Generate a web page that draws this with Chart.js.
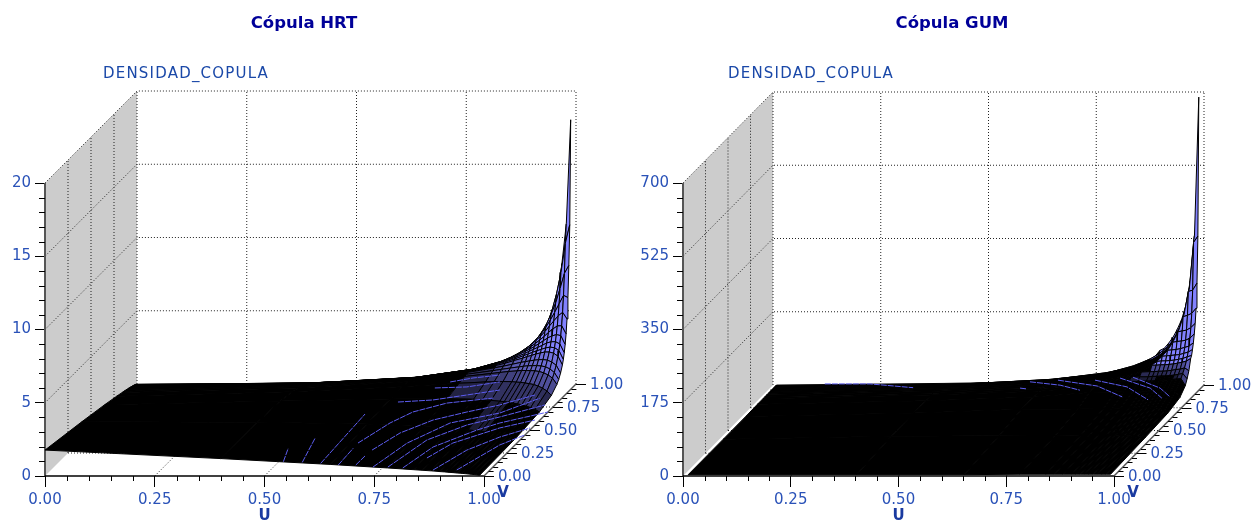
<!DOCTYPE html>
<html><head><meta charset="utf-8">
<script src="https://cdn.jsdelivr.net/npm/chart.js@4"></script>
<style>
html,body{margin:0;padding:0;background:#fff;overflow:hidden;width:1251px;height:521px}
canvas{position:absolute;top:0}
</style></head><body>
<canvas id="hrt" style="left:-18px" width="644" height="521"></canvas>
<canvas id="gum" style="left:626px" width="652" height="521"></canvas>
<script>
// Axis ticks
const uTicks = [0, 0.25, 0.5, 0.75, 1];
const vTicks = [0, 0.25, 0.5, 0.75, 1];
const zTicksHRT = [0, 5, 10, 15, 20];
const zTicksGUM = [0, 175, 350, 525, 700];
// Mesh knots (denser where the surface climbs)
const knotsHRT = [0, .4, .65, .78, .84, .86, .88, .90, .91, .92, .93, .94, .95, .96, .97, .98, .99];
const knotsGUM = [.01, .4, .65, .78, .84, .86, .88, .90, .91, .92, .93, .94, .95, .96, .97, .98, .99];
// Density, rows = v knots, columns = u knots
const densityHRT = [
[1.77,1.19,.79,.55,.43,.39,.35,.30,.28,.25,.23,.20,.18,.15,.12,.09,.05],
[1.19,1.16,1.03,.86,.74,.69,.63,.57,.54,.50,.46,.42,.37,.32,.26,.20,.12],
[.79,1.03,1.18,1.20,1.15,1.12,1.08,1.02,.99,.95,.89,.84,.77,.68,.58,.46,.29],
[.55,.86,1.20,1.43,1.52,1.54,1.55,1.54,1.51,1.49,1.45,1.40,1.34,1.24,1.09,.90,.60],
[.43,.74,1.15,1.52,1.72,1.79,1.86,1.90,1.93,1.92,1.92,1.90,1.86,1.76,1.62,1.40,.98],
[.39,.69,1.12,1.54,1.79,1.88,1.97,2.05,2.09,2.12,2.13,2.13,2.11,2.05,1.90,1.66,1.19],
[.35,.63,1.08,1.55,1.86,1.97,2.10,2.23,2.28,2.33,2.38,2.41,2.42,2.38,2.25,2.03,1.50],
[.30,.57,1.02,1.54,1.90,2.05,2.23,2.40,2.50,2.58,2.68,2.75,2.81,2.81,2.73,2.52,1.93],
[.28,.54,.99,1.51,1.93,2.09,2.28,2.50,2.61,2.73,2.83,2.93,3.03,3.08,3.04,2.84,2.23],
[.25,.50,.95,1.49,1.92,2.12,2.33,2.58,2.73,2.87,3.00,3.14,3.30,3.38,3.39,3.23,2.63],
[.23,.46,.89,1.45,1.92,2.13,2.38,2.68,2.83,3.00,3.19,3.38,3.58,3.72,3.81,3.74,3.13],
[.20,.42,.84,1.40,1.90,2.13,2.41,2.75,2.93,3.14,3.38,3.62,3.90,4.13,4.34,4.35,3.79],
[.18,.37,.77,1.34,1.86,2.11,2.42,2.81,3.03,3.30,3.58,3.90,4.27,4.62,4.97,5.20,4.75],
[.15,.32,.68,1.24,1.76,2.05,2.38,2.81,3.08,3.38,3.72,4.13,4.62,5.15,5.72,6.30,6.15],
[.12,.26,.58,1.09,1.62,1.90,2.25,2.73,3.04,3.39,3.81,4.34,4.97,5.72,6.70,7.74,8.28],
[.09,.20,.46,.90,1.40,1.66,2.03,2.52,2.84,3.23,3.74,4.35,5.20,6.30,7.74,9.74,11.0],
[.05,.12,.29,.60,.98,1.19,1.50,1.93,2.23,2.63,3.13,3.79,4.75,6.15,8.28,11.0,18.1]];
const densityGUM = [
[1,1,1,2,2,2,2,2,2,2,2,2,2,2,2,2,2],
[1,8,9,10,11,11,11,11,11,11,10,10,9,8,7,6,6],
[1,9,18,19,20,20,21,21,21,22,22,22,22,22,19,13,10],
[2,10,19,30,31,32,32,33,33,34,34,35,35,36,36,33,18],
[2,11,20,31,42,43,43,44,44,45,46,46,47,48,49,50,33],
[2,11,20,32,43,49,50,50,51,51,52,52,53,54,56,58,45],
[2,11,21,32,43,50,57,58,58,59,59,60,61,63,64,67,60],
[2,11,21,33,44,50,58,69,69,70,70,71,72,74,76,79,85],
[2,11,21,33,44,51,58,69,76,77,77,78,79,81,83,87,90],
[2,11,22,34,45,51,59,70,77,86,87,88,89,90,93,96,102],
[2,10,22,34,46,52,59,70,77,87,98,99,100,102,105,108,116],
[2,10,22,35,46,52,60,71,78,88,99,115,117,118,120,125,135],
[2,9,22,35,47,53,61,72,79,89,100,117,138,140,142,148,158],
[2,8,22,36,48,54,63,74,81,90,102,118,140,172,175,180,192],
[2,7,19,36,49,56,64,76,83,93,105,120,142,175,230,233,250],
[2,6,13,33,50,58,67,79,87,96,108,125,148,180,233,345,360],
[2,6,10,18,33,45,60,85,90,102,116,135,158,192,250,360,690]];
// Thin blue streaks in the dark part of the mesh, in plotted axis units [x, y, x, y, ...]
const streaksHRT = [
[.543,.976,.554,1.89],[.586,.93,.615,2.57],[.628,.86,.729,4.23],[.668,.75,.702,1.89],[.708,.75,.729,1.37],
[.713,2.25,.786,3.62,.838,4.37,.916,4.98,1.021,5.32],
[.745,1.77,.809,2.94,.884,3.82,.961,4.37,1.036,4.85,1.116,5.53],
[.747,.61,.825,2.25,.923,3.62,1.036,4.30,1.128,5.32],
[.781,.61,.870,2.46,.961,3.48,1.036,4.03,1.139,4.85],
[.815,.55,.884,1.98,.984,3.14,1.036,3.62,1.146,4.37],
[.870,1.23,.929,2.25,1.036,3.28,1.116,3.82],
[.884,.41,.961,1.77,1.036,2.66,1.105,3.28],
[.938,.41,1.036,2.12,1.093,2.80],
[.804,5.05,.884,5.19,.961,5.53,1.036,5.87],
[.888,6.01,.961,6.08,1.036,6.42],
[.923,6.42,.975,6.69,1.036,6.89]];
const streaksGUM = [
[.329,220,.434,220,.534,211],[.782,210,.798,208],
[.805,225,.875,217,.921,205],[.870,229,.961,215,1.019,189],
[.956,229,1.030,213,1.079,182],[1.014,234,1.084,210,1.111,186],
[1.044,236,1.107,210,1.130,189]];

const BLUE = [130,130,255];
const F = '"DejaVu Sans"';

function build(id, cfg){
  const vx = cfg.vPx[0]/cfg.uPx, vy = cfg.vPx[1]/cfg.zPx;
  const P = (u,v,z)=>({x:u+v*vx, y:z+v*vy});
  const zTop = cfg.zTicks[cfg.zTicks.length-1];
  const sets = [];
  const poly = (pts,o)=>sets.push(Object.assign({data:pts,showLine:true,pointRadius:0,borderWidth:0,fill:false,clip:false},o));
  const dots = pts=>poly(pts,{borderColor:'#222',borderWidth:1,borderDash:[1,2]});
  // walls
  poly([P(0,0,0),P(0,1,0),P(0,1,zTop),P(0,0,zTop),P(0,0,0)],{fill:'shape',backgroundColor:'#cccccc'});
  cfg.zTicks.slice(1).forEach(z=>{dots([P(0,0,z),P(0,1,z),P(1,1,z)]);});
  vTicks.slice(1).forEach(v=>dots([P(0,v,0),P(0,v,zTop)]));
  uTicks.slice(1).forEach(u=>dots([P(u,1,0),P(u,1,zTop)]));
  uTicks.slice(1,4).forEach(u=>dots([P(u,0,0),P(u,1,0)]));
  vTicks.slice(1,4).forEach(v=>dots([P(0,v,0),P(1,v,0)]));
  // axes
  poly([P(0,0,0),P(0,0,zTop)],{borderColor:'#555',borderWidth:2});
  poly([P(0,0,0),P(1,0,0)],{borderColor:'#000',borderWidth:1.5});
  poly([P(1,0,0),P(1,1,0)],{borderColor:'#555',borderWidth:1.5});
  // surface, far cells first
  const K = cfg.knots, Z = cfg.density;
  for(let i=K.length-2;i>=0;i--){
    for(let j=0;j<K.length-1;j++){
      const dv=K[i+1]-K[i];
      const dz=(Z[i+1][j]+Z[i+1][j+1]-Z[i][j]-Z[i][j+1])/2/dv;
      const sy=Math.abs(cfg.vPx[1]*0.01+cfg.zPx*0.01*dz)/cfg.dark;
      const n=Math.max(1,dv*100);
      const black=sy<=1?1:(1/sy)*(1-1/n)/(1-1/(sy*n));
      let f=Math.max(0,Math.min(1,1-black));
      if(f<0.2)f=0;
      const col='rgb('+BLUE.map(c=>Math.round(c*f)).join(',')+')';
      poly([P(K[j],K[i],Z[i][j]),P(K[j+1],K[i],Z[i][j+1]),P(K[j+1],K[i+1],Z[i+1][j+1]),P(K[j],K[i+1],Z[i+1][j]),P(K[j],K[i],Z[i][j])],
        {fill:'shape',backgroundColor:col,borderColor:'#000',borderWidth:1});
    }
  }
  // streaks
  cfg.streaks.forEach(s=>{
    const pts=[];for(let k=0;k<s.length;k+=2)pts.push({x:s[k],y:s[k+1]});
    poly(pts,{borderColor:'#5c5cf0',borderWidth:1,borderDash:[6,1]});
  });
  sets.reverse();

  const axisPlugin={id:'obliqueAxis',afterDraw(ch){
    const c=ch.ctx,X=ch.scales.x,Y=ch.scales.y;
    const px=(u,v,z)=>{const p=P(u,v,z);return [X.getPixelForValue(p.x),Y.getPixelForValue(p.y)];};
    c.save();
    c.strokeStyle='#000';c.lineWidth=1;c.beginPath();
    for(let t=1;t<20;t++){
      if(t%5===0)continue;
      let a=px(t/20,0,0);c.moveTo(Math.round(a[0])+.5,a[1]);c.lineTo(Math.round(a[0])+.5,a[1]+5);
      a=px(0,0,zTop*t/20);c.moveTo(a[0],Math.round(a[1])+.5);c.lineTo(a[0]-6,Math.round(a[1])+.5);
    }
    for(let t=0;t<=20;t++){
      const a=px(1,t/20,0),l=t%5===0?10:5;
      c.moveTo(a[0],Math.round(a[1])+.5);c.lineTo(a[0]+l,Math.round(a[1])+.5);
    }
    c.stroke();
    c.textBaseline='middle';c.textAlign='left';
    c.font='15px '+F;c.fillStyle='#2a52b8';
    vTicks.forEach(v=>{const a=px(1,v,0);c.fillText(v.toFixed(2),a[0]+14,a[1]+1);});
    c.font='15px '+F;c.fillStyle='#1a48a8';
    if('letterSpacing' in c)c.letterSpacing='1.2px';
    c.fillText('DENSIDAD_COPULA',cfg.zLabel[0],cfg.zLabel[1]);
    if('letterSpacing' in c)c.letterSpacing='0px';
    c.font='bold 15px '+F;c.fillStyle='#1a3aa0';c.textAlign='center';
    const b=px(1,0,0);
    c.fillText('V',b[0]+19,b[1]+17);
    const m=px(.5,0,0);
    c.fillText('U',m[0],b[1]+40);
    c.restore();
  }};

  new Chart(document.getElementById(id),{
    type:'scatter',
    data:{datasets:sets},
    plugins:[axisPlugin],
    options:{
      responsive:false,animation:false,events:[],
      plugins:{legend:{display:false},tooltip:{enabled:false},
        title:{display:true,text:cfg.title,color:'#000099',font:{family:F,size:16.5,weight:'bold'},
          padding:{top:14,bottom:80-14-19.8}}},
      scales:{
        x:{type:'linear',min:0,max:cfg.xMax,
          afterFit(s){s.height=45;},
          afterBuildTicks(s){s.ticks=uTicks.map(v=>({value:v}));},
          border:{display:false},
          grid:{drawOnChartArea:false,drawTicks:true,tickLength:11,tickColor:'#000'},
          ticks:{autoSkip:false,maxRotation:0,padding:4,color:'#2a52b8',font:{family:F,size:15},callback:v=>Number(v).toFixed(2)}},
        y:{type:'linear',min:0,max:cfg.yMax,
          afterFit(s){s.width=cfg.yWidth;},
          afterBuildTicks(s){s.ticks=cfg.zTicks.map(v=>({value:v}));},
          border:{display:false},
          grid:{drawOnChartArea:false,drawTicks:true,tickLength:10,tickColor:'#000'},
          ticks:{autoSkip:false,padding:4,color:'#2a52b8',font:{family:F,size:15},callback:v=>String(v)}}
      }
    }
  });
}

build('hrt',{title:'Cópula HRT',knots:knotsHRT,density:densityHRT,streaks:streaksHRT,zTicks:zTicksHRT,
  uPx:439,zPx:14.65,vPx:[92,92],xMax:(626-45)/439,yMax:(476-80)/14.65,yWidth:63,zLabel:[121,74],dark:0.95});
build('gum',{title:'Cópula GUM',knots:knotsGUM,density:densityGUM,streaks:streaksGUM,zTicks:zTicksGUM,
  uPx:431,zPx:293/700,vPx:[90,91],xMax:(1278-683)/431,yMax:(476-80)/(293/700),yWidth:57,zLabel:[102,74],dark:2});
</script>
</body></html>
